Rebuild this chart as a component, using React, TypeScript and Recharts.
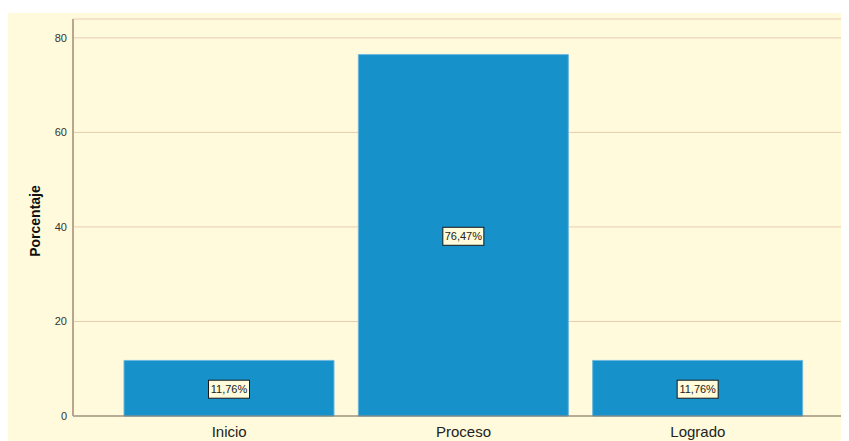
import React from "react";
import { BarChart, Bar, XAxis, YAxis, CartesianGrid, LabelList } from "recharts";

const categories = ["Inicio", "Proceso", "Logrado"];
const percentages = [11.76, 76.47, 11.76];
const yTicks = [0, 20, 40, 60, 80];
const labels = ["11,76%", "76,47%", "11,76%"];

const data = categories.map((c, i) => ({ name: c, value: percentages[i], label: labels[i] }));

const FONT = "'Liberation Sans', Arial, sans-serif";

const BoxLabel = (props: any) => {
  const { x, y, width, height, value } = props;
  const cx = x + width / 2;
  const cy = y + height / 2 + 1;
  const w = 41;
  const h = 18;
  return (
    <g>
      <rect x={cx - w / 2} y={cy - h / 2} width={w} height={h} fill="#FFFBDB" stroke="#1a1a1a" strokeWidth={1} />
      <text x={cx} y={cy} textAnchor="middle" dominantBaseline="central" fontSize={11} fontFamily={FONT} fill="#222">
        {value}
      </text>
    </g>
  );
};

const YTitle = () => (
  <text
    x={26.5}
    y={208}
    transform="rotate(-90 26.5 208)"
    textAnchor="middle"
    dominantBaseline="central"
    fontSize={14}
    fontWeight="bold"
    fontFamily={FONT}
    fill="#111"
  >
    Porcentaje
  </text>
);

export default function App() {
  return (
    <div style={{ marginTop: 5, width: 841, height: 428, background: "#FFFADB" }}>
      <BarChart
        width={841}
        height={428}
        data={data}
        margin={{ top: 6, right: 0, bottom: 0, left: 0 }}
        barSize={210}
      >
        <CartesianGrid vertical={false} stroke="#E8CDB0" strokeWidth={1} />
        <XAxis
          dataKey="name"
          height={25}
          padding={{ left: 39, right: 34 }}
          tickLine={false}
          axisLine={{ stroke: "#7d7468", strokeWidth: 1 }}
          tick={{ fontSize: 15, fill: "#222", fontFamily: FONT }}
          tickMargin={4}
        />
        <YAxis
          width={65}
          domain={[0, 84]}
          ticks={yTicks}
          tickLine={false}
          axisLine={{ stroke: "#B9A68E", strokeWidth: 2 }}
          tick={{ fontSize: 11, fill: "#333", fontFamily: FONT }}
          tickMargin={0}
          label={<YTitle />}
        />
        <Bar dataKey="value" fill="#1791C9" stroke="#6CB8DD" strokeWidth={1} isAnimationActive={false}>
          <LabelList dataKey="label" content={<BoxLabel />} />
        </Bar>
      </BarChart>
    </div>
  );
}
